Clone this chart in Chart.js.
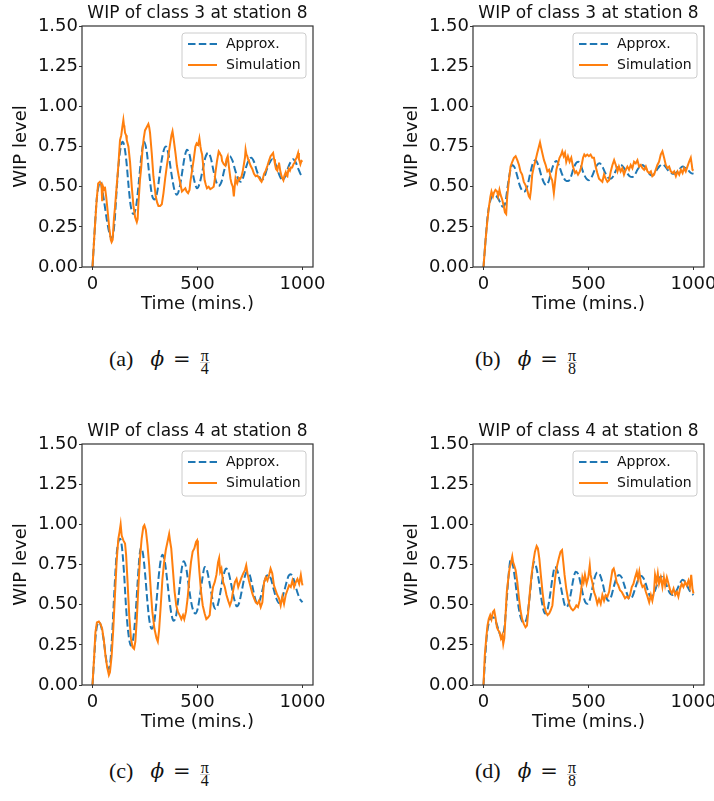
<!DOCTYPE html>
<html>
<head>
<meta charset="utf-8">
<script src="https://cdn.jsdelivr.net/npm/chart.js@4.4.1/dist/chart.umd.min.js"></script>
<style>
  body { margin: 0; width: 714px; height: 801px; background: #fff; position: relative; overflow: hidden; }
  canvas { position: absolute; }
  .cap { position: absolute; display: flex; align-items: baseline; white-space: nowrap;
         font-family: "Liberation Serif", "DejaVu Serif", serif; font-size: 22px; line-height: 28px; color: #111; }
  .cap .phi { margin-left: 17px; font-family: "DejaVu Serif", serif; font-size: 20px; }
  .cap .eq { margin-left: 9px; font-family: "DejaVu Serif", serif; font-size: 21px; }
  .cap .frac { margin-left: 9px; display: inline-block; text-align: center; font-size: 16px; line-height: 12px;
               position: relative; top: -5px; }
  .cap .frac span { display: block; padding: 0 1px; }
  .cap .frac span:first-child { border-bottom: 1px solid #c8c8c8; }
</style>
</head>
<body>
<canvas id="chart-a" width="340" height="320" style="left:0;top:0"></canvas>
<canvas id="chart-b" width="323" height="320" style="left:391px;top:0"></canvas>
<canvas id="chart-c" width="340" height="320" style="left:0;top:418px"></canvas>
<canvas id="chart-d" width="323" height="320" style="left:391px;top:418px"></canvas>

<div class="cap" style="left:109px;top:345px"><span>(a)</span><i class="phi">ϕ</i><span class="eq">=</span><span class="frac"><span>π</span><span>4</span></span></div>
<div class="cap" style="left:475px;top:345px"><span>(b)</span><i class="phi">ϕ</i><span class="eq">=</span><span class="frac"><span>π</span><span>8</span></span></div>
<div class="cap" style="left:109px;top:757px"><span>(c)</span><i class="phi">ϕ</i><span class="eq">=</span><span class="frac"><span>π</span><span>4</span></span></div>
<div class="cap" style="left:475px;top:757px"><span>(d)</span><i class="phi">ϕ</i><span class="eq">=</span><span class="frac"><span>π</span><span>8</span></span></div>

<script>
const xTicks = [0, 500, 1000];
const yTicks = [0, 0.25, 0.5, 0.75, 1.0, 1.25, 1.5];

// (a) class 3, phi = pi/4
const approxTimeA = [0, 10, 20, 30, 37, 45, 55, 70, 85, 94, 105, 115, 125, 135, 143, 152, 162, 172, 182, 195,
  208, 220, 232, 245, 258, 270, 283, 296, 310, 322, 336, 349, 362, 376, 390, 402, 414, 426, 438, 450,
  462, 474, 486, 498, 510, 524, 537, 550, 563, 576, 589, 601, 614, 627, 640, 654, 667, 680, 693, 705,
  718, 731, 744, 756, 769, 782, 795, 805, 818, 831, 844, 856, 869, 882, 894, 904, 916, 929, 942, 955,
  968, 980, 990, 1000];
const approxWipA = [0, 0.22, 0.42, 0.51, 0.53, 0.49, 0.41, 0.28, 0.19, 0.18, 0.28, 0.48, 0.65, 0.75, 0.78, 0.75, 0.65, 0.50, 0.38, 0.33,
  0.38, 0.52, 0.68, 0.78, 0.72, 0.58, 0.45, 0.42, 0.48, 0.60, 0.71, 0.75, 0.70, 0.58, 0.48, 0.45, 0.49, 0.58, 0.68, 0.73,
  0.70, 0.61, 0.53, 0.49, 0.52, 0.60, 0.68, 0.71, 0.68, 0.60, 0.53, 0.505, 0.53, 0.60, 0.66, 0.69, 0.66, 0.60, 0.55, 0.53,
  0.56, 0.62, 0.665, 0.68, 0.655, 0.60, 0.56, 0.54, 0.56, 0.61, 0.65, 0.67, 0.65, 0.60, 0.56, 0.54, 0.56, 0.61, 0.65, 0.67,
  0.65, 0.61, 0.58, 0.555];
const simTimeA = [0, 10, 20, 27, 35, 43, 46, 50, 55, 59, 65, 72, 80, 87, 91, 96, 102, 107, 115, 123,
  131, 137, 142, 147, 150, 152, 155, 160, 163, 171, 179, 187, 195, 203, 211, 215, 218, 226, 232, 238,
  244, 250, 258, 266, 270, 274, 282, 290, 301, 308, 314, 322, 330, 338, 346, 354, 362, 370, 376, 381,
  386, 391, 396, 402, 410, 418, 426, 434, 442, 448, 455, 462, 466, 474, 482, 490, 496, 503, 509, 514,
  518, 522, 528, 534, 540, 545, 553, 561, 568, 577, 582, 585, 593, 601, 606, 609, 614, 617, 625, 633,
  638, 644, 650, 657, 662, 668, 673, 677, 681, 686, 689, 694, 697, 704, 710, 716, 721, 726, 729, 733,
  737, 741, 745, 753, 761, 769, 777, 785, 793, 799, 805, 811, 817, 825, 833, 840, 848, 854, 860, 865,
  869, 874, 880, 884, 888, 894, 900, 905, 909, 914, 920, 924, 928, 932, 935, 940, 945, 951, 957, 963,
  967, 972, 979, 983, 986, 990, 995, 1000];
const simWipA = [0, 0.22, 0.42, 0.52, 0.53, 0.51, 0.41, 0.50, 0.48, 0.50, 0.44, 0.35, 0.24, 0.17, 0.155, 0.17, 0.30, 0.37, 0.50, 0.63,
  0.79, 0.82, 0.87, 0.915, 0.88, 0.87, 0.835, 0.82, 0.79, 0.75, 0.65, 0.50, 0.38, 0.31, 0.28, 0.30, 0.38, 0.54, 0.62, 0.73,
  0.80, 0.85, 0.87, 0.89, 0.87, 0.835, 0.71, 0.565, 0.44, 0.40, 0.38, 0.38, 0.39, 0.46, 0.55, 0.63, 0.70, 0.77, 0.82, 0.845,
  0.80, 0.75, 0.70, 0.63, 0.57, 0.52, 0.47, 0.48, 0.49, 0.47, 0.46, 0.48, 0.53, 0.60, 0.67, 0.75, 0.77, 0.76, 0.80, 0.75,
  0.72, 0.70, 0.62, 0.54, 0.51, 0.49, 0.50, 0.485, 0.49, 0.50, 0.54, 0.585, 0.66, 0.72, 0.71, 0.70, 0.69, 0.66, 0.64, 0.63,
  0.67, 0.69, 0.62, 0.55, 0.52, 0.50, 0.44, 0.50, 0.55, 0.53, 0.52, 0.54, 0.555, 0.55, 0.565, 0.60, 0.64, 0.68, 0.73, 0.70,
  0.69, 0.67, 0.66, 0.63, 0.61, 0.58, 0.565, 0.57, 0.555, 0.54, 0.53, 0.55, 0.58, 0.60, 0.63, 0.66, 0.69, 0.70, 0.71, 0.67,
  0.64, 0.61, 0.60, 0.63, 0.65, 0.60, 0.565, 0.55, 0.54, 0.57, 0.59, 0.57, 0.565, 0.60, 0.61, 0.60, 0.62, 0.62, 0.64, 0.65,
  0.67, 0.68, 0.71, 0.67, 0.66, 0.64, 0.66, 0.655];

// (b) class 3, phi = pi/8
const approxTimeB = [0, 10, 20, 30, 42, 55, 68, 80, 92, 104, 115, 126, 137, 148, 160, 172, 185, 195, 208, 222,
  235, 248, 262, 275, 288, 299, 312, 324, 336, 347, 360, 372, 384, 395, 404, 416, 428, 440, 451, 464,
  476, 490, 502, 515, 528, 541, 553, 566, 580, 594, 606, 618, 630, 642, 653, 667, 681, 696, 709, 721,
  733, 745, 757, 770, 782, 794, 804, 816, 828, 840, 852, 866, 880, 894, 908, 920, 934, 948, 962, 976,
  988, 1000];
const approxWipB = [0, 0.17, 0.32, 0.40, 0.44, 0.445, 0.43, 0.40, 0.375, 0.40, 0.50, 0.59, 0.635, 0.62, 0.57, 0.51, 0.475, 0.47, 0.50, 0.58,
  0.645, 0.665, 0.63, 0.57, 0.525, 0.51, 0.54, 0.60, 0.645, 0.66, 0.63, 0.585, 0.55, 0.535, 0.535, 0.56, 0.61, 0.645, 0.655, 0.63,
  0.585, 0.55, 0.54, 0.56, 0.60, 0.635, 0.645, 0.625, 0.585, 0.555, 0.55, 0.565, 0.60, 0.625, 0.635, 0.62, 0.59, 0.565, 0.56, 0.575,
  0.605, 0.625, 0.635, 0.62, 0.595, 0.575, 0.57, 0.585, 0.61, 0.63, 0.64, 0.625, 0.60, 0.585, 0.58, 0.59, 0.61, 0.625, 0.615, 0.60,
  0.585, 0.58];
const simTimeB = [0, 10, 17, 25, 33, 38, 45, 49, 57, 65, 70, 76, 81, 89, 97, 102, 108, 113, 121, 129,
  137, 145, 153, 161, 169, 176, 184, 192, 200, 208, 216, 221, 226, 232, 240, 248, 256, 264, 269, 273,
  280, 288, 296, 304, 312, 320, 327, 335, 340, 347, 355, 362, 370, 375, 382, 388, 394, 402, 410, 418,
  426, 436, 442, 450, 459, 466, 474, 480, 486, 494, 502, 510, 518, 526, 534, 542, 550, 558, 566, 574,
  582, 590, 598, 606, 614, 622, 630, 638, 645, 653, 661, 669, 677, 685, 693, 701, 709, 717, 725, 733,
  741, 749, 757, 765, 773, 781, 789, 797, 804, 812, 820, 828, 836, 844, 852, 860, 868, 876, 884, 892,
  901, 908, 916, 924, 932, 940, 948, 955, 963, 971, 979, 987, 992, 995, 1000];
const simWipB = [0, 0.17, 0.27, 0.365, 0.44, 0.47, 0.44, 0.46, 0.48, 0.47, 0.44, 0.48, 0.45, 0.42, 0.375, 0.34, 0.33, 0.44, 0.54, 0.625,
  0.655, 0.68, 0.69, 0.665, 0.635, 0.595, 0.575, 0.53, 0.51, 0.48, 0.44, 0.43, 0.48, 0.575, 0.625, 0.665, 0.71, 0.75, 0.775, 0.75,
  0.71, 0.665, 0.635, 0.595, 0.605, 0.56, 0.54, 0.46, 0.52, 0.605, 0.645, 0.68, 0.70, 0.72, 0.69, 0.71, 0.655, 0.69, 0.655, 0.68,
  0.625, 0.585, 0.595, 0.575, 0.595, 0.625, 0.68, 0.70, 0.69, 0.70, 0.69, 0.70, 0.68, 0.68, 0.625, 0.585, 0.55, 0.54, 0.53, 0.575,
  0.55, 0.53, 0.54, 0.595, 0.635, 0.665, 0.635, 0.595, 0.625, 0.595, 0.615, 0.575, 0.605, 0.625, 0.605, 0.635, 0.615, 0.655, 0.645, 0.665,
  0.625, 0.635, 0.615, 0.605, 0.625, 0.595, 0.585, 0.595, 0.565, 0.575, 0.605, 0.635, 0.655, 0.70, 0.72, 0.68, 0.635, 0.615, 0.625, 0.595,
  0.585, 0.595, 0.565, 0.595, 0.575, 0.605, 0.585, 0.615, 0.595, 0.625, 0.655, 0.68, 0.635, 0.605, 0.60];

// (c) class 4, phi = pi/4
const approxTimeC = [0, 8, 16, 24, 32, 42, 52, 62, 70, 76, 84, 94, 104, 114, 123, 131, 140, 150, 160, 170,
  183, 195, 205, 215, 223, 230, 240, 250, 260, 270, 282, 294, 304, 314, 324, 333, 344, 355, 366, 376,
  386, 398, 408, 418, 427, 434, 446, 457, 468, 478, 490, 502, 512, 523, 534, 546, 558, 569, 578, 585,
  597, 608, 620, 630, 636, 648, 660, 672, 680, 686, 698, 710, 722, 732, 737, 750, 762, 774, 785, 797,
  809, 820, 830, 837, 850, 862, 875, 888, 900, 912, 924, 934, 944, 956, 968, 980, 990, 1000];
const approxWipC = [0, 0.17, 0.32, 0.38, 0.39, 0.36, 0.29, 0.19, 0.12, 0.10, 0.13, 0.32, 0.58, 0.80, 0.89, 0.91, 0.86, 0.70, 0.48, 0.33,
  0.245, 0.30, 0.44, 0.64, 0.79, 0.855, 0.82, 0.70, 0.54, 0.41, 0.35, 0.39, 0.51, 0.66, 0.77, 0.81, 0.77, 0.66, 0.53, 0.44,
  0.40, 0.43, 0.53, 0.65, 0.74, 0.77, 0.73, 0.63, 0.53, 0.47, 0.445, 0.48, 0.56, 0.66, 0.735, 0.71, 0.63, 0.55, 0.49, 0.475,
  0.50, 0.57, 0.66, 0.71, 0.725, 0.70, 0.63, 0.55, 0.51, 0.49, 0.51, 0.58, 0.66, 0.70, 0.705, 0.68, 0.61, 0.54, 0.505, 0.53,
  0.59, 0.65, 0.68, 0.685, 0.66, 0.60, 0.54, 0.51, 0.53, 0.58, 0.64, 0.68, 0.69, 0.665, 0.61, 0.56, 0.53, 0.515];
const simTimeC = [0, 8, 14, 21, 30, 38, 46, 54, 62, 70, 78, 83, 91, 99, 107, 115, 123, 129, 134, 139,
  147, 155, 160, 167, 175, 183, 191, 198, 204, 211, 218, 226, 234, 242, 247, 254, 262, 270, 278, 285,
  295, 305, 311, 317, 325, 333, 341, 349, 357, 365, 370, 375, 383, 391, 399, 407, 415, 423, 431, 437,
  445, 453, 461, 469, 477, 485, 493, 498, 502, 509, 517, 525, 534, 542, 550, 558, 566, 574, 582, 590,
  598, 603, 608, 614, 622, 630, 638, 646, 654, 662, 670, 678, 686, 694, 702, 710, 718, 726, 732, 738,
  745, 753, 761, 769, 777, 785, 793, 801, 809, 817, 825, 833, 841, 848, 856, 864, 872, 880, 888, 896,
  904, 912, 920, 928, 936, 944, 952, 960, 968, 976, 984, 992, 997, 1000];
const simWipC = [0, 0.18, 0.33, 0.39, 0.395, 0.38, 0.35, 0.28, 0.18, 0.11, 0.0625, 0.08, 0.18, 0.35, 0.56, 0.77, 0.91, 0.955, 1.0, 0.93,
  0.90, 0.88, 0.81, 0.64, 0.43, 0.29, 0.235, 0.225, 0.27, 0.41, 0.60, 0.79, 0.91, 0.985, 0.995, 0.965, 0.87, 0.745, 0.58, 0.455,
  0.35, 0.29, 0.27, 0.34, 0.495, 0.66, 0.765, 0.84, 0.89, 0.94, 0.89, 0.85, 0.715, 0.58, 0.495, 0.455, 0.435, 0.41, 0.435, 0.41,
  0.455, 0.54, 0.66, 0.765, 0.83, 0.85, 0.89, 0.90, 0.83, 0.705, 0.58, 0.495, 0.445, 0.41, 0.42, 0.435, 0.54, 0.61, 0.64, 0.685,
  0.765, 0.79, 0.705, 0.725, 0.64, 0.61, 0.56, 0.525, 0.495, 0.525, 0.59, 0.64, 0.66, 0.61, 0.64, 0.67, 0.695, 0.715, 0.745, 0.695,
  0.65, 0.61, 0.57, 0.54, 0.515, 0.505, 0.525, 0.485, 0.515, 0.64, 0.67, 0.65, 0.685, 0.725, 0.695, 0.62, 0.59, 0.56, 0.54, 0.495,
  0.55, 0.505, 0.56, 0.59, 0.62, 0.61, 0.65, 0.61, 0.64, 0.66, 0.63, 0.685, 0.64, 0.62];

// (d) class 4, phi = pi/8
const approxTimeD = [0, 8, 16, 26, 36, 48, 60, 72, 82, 90, 100, 110, 120, 129, 138, 150, 163, 177, 190, 197,
  208, 220, 231, 240, 250, 262, 274, 285, 293, 305, 317, 329, 340, 352, 364, 376, 386, 394, 405, 416,
  428, 439, 451, 463, 474, 485, 494, 506, 518, 530, 542, 555, 568, 580, 590, 595, 608, 620, 633, 645,
  658, 671, 684, 696, 709, 722, 736, 749, 762, 774, 786, 796, 808, 820, 832, 844, 858, 872, 886, 900,
  912, 924, 936, 948, 962, 976, 988, 1000];
const approxWipD = [0, 0.17, 0.31, 0.39, 0.42, 0.42, 0.39, 0.34, 0.305, 0.30, 0.36, 0.52, 0.69, 0.78, 0.76, 0.66, 0.52, 0.42, 0.39, 0.39,
  0.43, 0.55, 0.69, 0.765, 0.74, 0.66, 0.55, 0.47, 0.445, 0.47, 0.56, 0.67, 0.735, 0.71, 0.64, 0.56, 0.50, 0.485, 0.505, 0.57,
  0.66, 0.705, 0.69, 0.63, 0.56, 0.515, 0.505, 0.53, 0.60, 0.67, 0.70, 0.685, 0.63, 0.56, 0.53, 0.525, 0.55, 0.61, 0.665, 0.685,
  0.67, 0.62, 0.565, 0.535, 0.55, 0.60, 0.655, 0.68, 0.665, 0.625, 0.575, 0.55, 0.56, 0.60, 0.645, 0.675, 0.66, 0.62, 0.575, 0.56,
  0.57, 0.60, 0.635, 0.655, 0.64, 0.60, 0.575, 0.56];
const simTimeD = [0, 6, 13, 19, 25, 32, 38, 45, 51, 57, 64, 70, 76, 83, 89, 94, 99, 105, 111, 118,
  124, 130, 137, 141, 146, 153, 161, 169, 176, 184, 192, 200, 207, 213, 221, 229, 237, 245, 253, 259,
  266, 273, 281, 289, 297, 305, 313, 320, 328, 335, 343, 351, 359, 367, 374, 380, 386, 394, 402, 410,
  418, 426, 434, 442, 450, 458, 466, 471, 477, 483, 491, 499, 506, 510, 518, 526, 534, 542, 550, 558,
  566, 574, 582, 590, 598, 606, 614, 620, 626, 634, 642, 650, 658, 666, 674, 682, 690, 698, 706, 714,
  722, 730, 736, 742, 749, 757, 765, 773, 781, 789, 797, 804, 812, 817, 824, 830, 836, 844, 852, 859,
  865, 873, 881, 889, 897, 905, 913, 921, 928, 936, 944, 952, 960, 968, 976, 983, 989, 995, 1000];
const simWipD = [0, 0.18, 0.29, 0.37, 0.41, 0.435, 0.41, 0.455, 0.465, 0.42, 0.36, 0.34, 0.33, 0.29, 0.31, 0.255, 0.29, 0.435, 0.58, 0.66,
  0.725, 0.755, 0.80, 0.765, 0.745, 0.715, 0.64, 0.54, 0.465, 0.41, 0.38, 0.36, 0.37, 0.455, 0.58, 0.685, 0.765, 0.83, 0.865, 0.85,
  0.785, 0.685, 0.58, 0.495, 0.455, 0.435, 0.445, 0.465, 0.495, 0.59, 0.685, 0.745, 0.79, 0.83, 0.84, 0.765, 0.685, 0.60, 0.54, 0.495,
  0.475, 0.465, 0.475, 0.495, 0.485, 0.525, 0.60, 0.67, 0.64, 0.685, 0.63, 0.67, 0.745, 0.685, 0.64, 0.58, 0.55, 0.505, 0.535, 0.505,
  0.56, 0.525, 0.56, 0.55, 0.58, 0.65, 0.715, 0.725, 0.695, 0.64, 0.62, 0.59, 0.58, 0.56, 0.54, 0.55, 0.54, 0.56, 0.61, 0.63,
  0.67, 0.705, 0.66, 0.705, 0.64, 0.61, 0.62, 0.58, 0.55, 0.515, 0.56, 0.525, 0.58, 0.685, 0.64, 0.695, 0.63, 0.67, 0.61, 0.67,
  0.62, 0.67, 0.63, 0.59, 0.57, 0.60, 0.56, 0.58, 0.55, 0.60, 0.63, 0.61, 0.64, 0.62, 0.65, 0.61, 0.685, 0.60, 0.57];

Chart.defaults.font.family = '"DejaVu Sans", sans-serif';
Chart.defaults.color = '#111';

const toPoints = (ts, vs) => ts.map((t, i) => ({ x: t, y: vs[i] }));

// axes box + legend frame in the upper right corner
const frameLegend = {
  id: 'frameLegend',
  afterDatasetsDraw(chart) {
    const { ctx, chartArea: a } = chart;
    ctx.save();
    ctx.strokeStyle = '#333';
    ctx.lineWidth = 1.2;
    ctx.strokeRect(a.left, a.top, a.right - a.left, a.bottom - a.top);

    const w = 124, h = 45;
    const x0 = a.right - 7 - w, y0 = a.top + 7;
    ctx.beginPath();
    if (ctx.roundRect) ctx.roundRect(x0, y0, w, h, 3); else ctx.rect(x0, y0, w, h);
    ctx.fillStyle = 'rgba(255,255,255,0.8)';
    ctx.fill();
    ctx.strokeStyle = '#cccccc';
    ctx.lineWidth = 1;
    ctx.stroke();

    ctx.font = '14px "DejaVu Sans"';
    ctx.textBaseline = 'middle';
    const order = [1, 0];
    order.forEach((di, row) => {
      const ds = chart.data.datasets[di];
      const y = y0 + 11 + row * 21;
      ctx.beginPath();
      ctx.setLineDash(ds.borderDash || []);
      ctx.strokeStyle = ds.borderColor;
      ctx.lineWidth = ds.borderWidth;
      ctx.moveTo(x0 + 6, y);
      ctx.lineTo(x0 + 35, y);
      ctx.stroke();
      ctx.setLineDash([]);
      ctx.fillStyle = '#111';
      ctx.fillText(ds.label, x0 + 44, y + 0.5);
    });
    ctx.restore();
  }
};

function wipChart(id, title, approxT, approxV, simT, simV, padRight) {
  return new Chart(document.getElementById(id), {
    type: 'line',
    plugins: [frameLegend],
    data: {
      datasets: [
        {
          label: 'Simulation',
          data: toPoints(simT, simV),
          borderColor: '#ff7f0e',
          borderWidth: 2,
          pointRadius: 0,
          tension: 0,
          order: 0,
        },
        {
          label: 'Approx.',
          data: toPoints(approxT, approxV),
          borderColor: '#1f77b4',
          borderWidth: 2,
          borderDash: [7.5, 3.3],
          pointRadius: 0,
          cubicInterpolationMode: 'monotone',
          order: 1,
        },
      ],
    },
    options: {
      responsive: false,
      animation: false,
      events: [],
      layout: { padding: { left: 0, right: padRight, top: 0, bottom: 0 } },
      plugins: {
        legend: { display: false },
        tooltip: { enabled: false },
        title: {
          display: true,
          fullSize: false,
          text: title,
          color: '#111',
          font: { size: 17, weight: 'normal' },
          padding: { top: 3.5, bottom: 2.1 },
        },
      },
      scales: {
        x: {
          type: 'linear',
          min: -50,
          max: 1050,
          afterBuildTicks: (axis) => { axis.ticks = xTicks.map((value) => ({ value })); },
          afterFit: (axis) => { axis.height = 53; axis.paddingLeft = 0; axis.paddingRight = 0; },
          grid: { drawOnChartArea: false, tickLength: 3, color: '#333' },
          border: { display: false },
          ticks: { padding: 4, maxRotation: 0, color: '#111', font: { size: 18 }, callback: (v) => String(v) },
          title: { display: true, text: 'Time (mins.)', color: '#111', font: { size: 18 }, padding: { top: 0, bottom: 5 } },
        },
        y: {
          min: 0,
          max: 1.5,
          afterBuildTicks: (axis) => { axis.ticks = yTicks.map((value) => ({ value })); },
          afterFit: (axis) => { axis.width = 82; axis.paddingTop = 0; axis.paddingBottom = 0; },
          grid: { drawOnChartArea: false, tickLength: 3, color: '#333' },
          border: { display: false },
          ticks: { padding: 1, color: '#111', font: { size: 18 }, callback: (v) => v.toFixed(2) },
          title: { display: true, text: 'WIP level', color: '#111', font: { size: 18 }, padding: { top: 10.5, bottom: 0 } },
        },
      },
    },
  });
}

wipChart('chart-a', 'WIP of class 3 at station 8', approxTimeA, approxWipA, simTimeA, simWipA, 27);
wipChart('chart-b', 'WIP of class 3 at station 8', approxTimeB, approxWipB, simTimeB, simWipB, 10);
wipChart('chart-c', 'WIP of class 4 at station 8', approxTimeC, approxWipC, simTimeC, simWipC, 27);
wipChart('chart-d', 'WIP of class 4 at station 8', approxTimeD, approxWipD, simTimeD, simWipD, 10);
</script>
</body>
</html>
